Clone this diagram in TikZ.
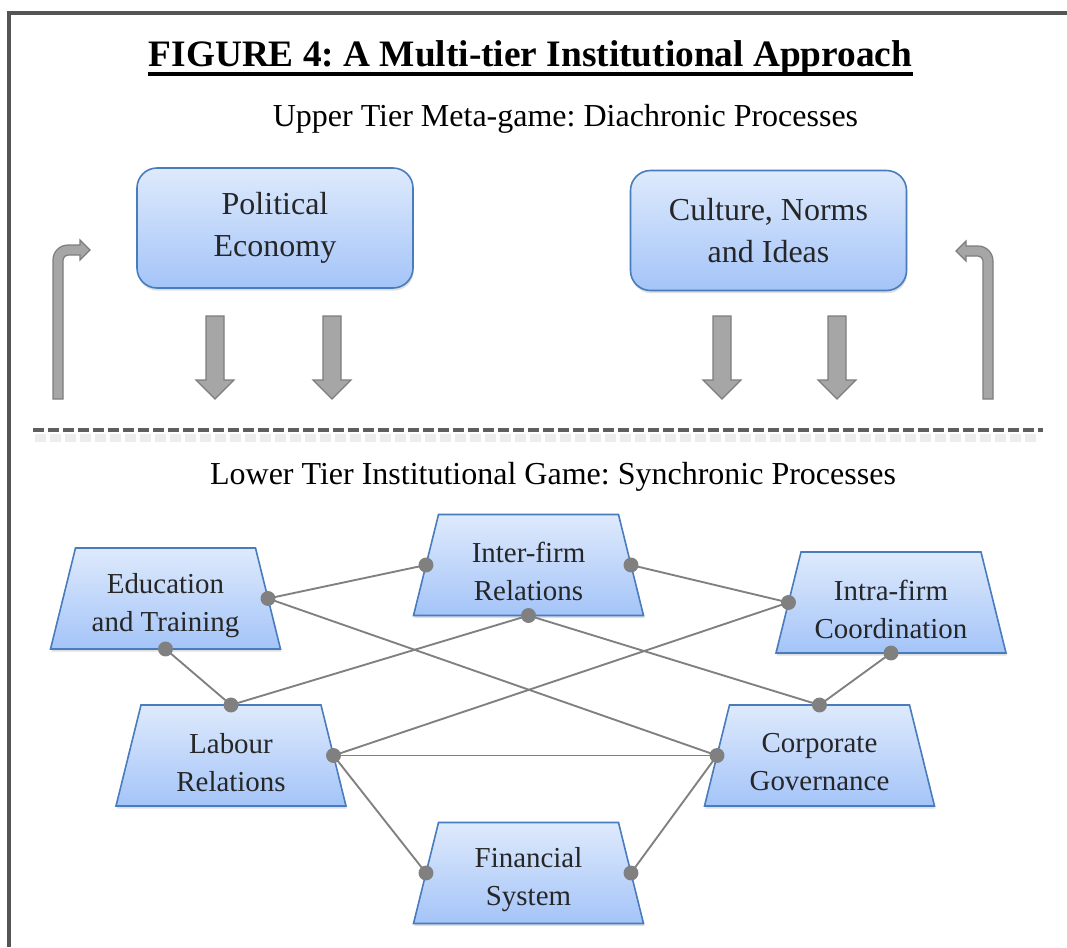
\documentclass[tikz,border=0pt]{standalone}
\usepackage{fontspec}
\setmainfont{Liberation Serif}
\usetikzlibrary{calc,shadows}
\frenchspacing
\definecolor{boxtop}{RGB}{222,234,252}
\definecolor{boxbot}{RGB}{164,196,248}
\definecolor{boxline}{RGB}{72,124,189}
\definecolor{arrfill}{RGB}{166,166,166}
\definecolor{arrline}{RGB}{125,125,125}
\definecolor{linkgray}{RGB}{128,128,128}
\definecolor{txt}{RGB}{38,38,38}
\definecolor{framegray}{RGB}{85,85,85}
\definecolor{dashgray}{RGB}{95,95,95}

\newcommand\trapz[4]{%
  \path[trapfill] (#2,#3) ++(-90,-50.5) -- ++(180,0) -- ++(25,101) -- ++(-230,0) -- cycle;
  \node[traptext] (#1) at (#2,#3) {#4};
  \coordinate (#1-l) at ($(#2,#3)+(-102.5,0)$);
  \coordinate (#1-r) at ($(#2,#3)+(102.5,0)$);
  \coordinate (#1-t) at ($(#2,#3)+(0,-50.5)$);
  \coordinate (#1-b) at ($(#2,#3)+(0,50.5)$);
}
\newcommand\downarr[1]{%
  \path[arrstyle] (#1-9,316) -- (#1+9,316) -- (#1+9,380) -- (#1+19,380) -- (#1,399)
    -- (#1-19,380) -- (#1-9,380) -- cycle;
}

\begin{document}
\begin{tikzpicture}[x=0.75pt,y=-0.75pt,
  upperbox/.style={rectangle, rounded corners=15pt, draw=boxline, line width=1.2pt,
    top color=boxtop, bottom color=boxbot, minimum width=207pt, minimum height=90pt,
    align=center, text=txt, font=\fontsize{24}{31.5}\selectfont,
    drop shadow={shadow xshift=0.6pt, shadow yshift=-2pt, opacity=0.25}},
  trapfill/.style={draw=boxline, line width=1.2pt, top color=boxtop, bottom color=boxbot,
    drop shadow={shadow xshift=0.6pt, shadow yshift=-2pt, opacity=0.25}},
  traptext/.style={inner sep=0pt, align=center, text=txt, yshift=-5pt,
    font=\fontsize{21.7}{28.5}\selectfont},
  arrstyle/.style={fill=arrfill, draw=arrline, line width=0.9pt, line join=miter},
  link/.style={draw=linkgray, line width=1.4pt},
  dotc/.style={fill=linkgray},
  heading/.style={inner sep=0pt, anchor=base, font=\fontsize{24}{29}\selectfont, text=black}
]
\useasboundingbox (0,0) rectangle (1067,947);
\fill[white] (0,0) rectangle (1067,947);

% frame (cropped)
\draw[framegray, line width=2.8pt] (9,947) -- (9,13) -- (1067,13);

% title
\node[inner sep=0pt, anchor=base, font=\fontsize{28}{34}\selectfont\bfseries] (title) at (530.5,66)
  {FIGURE 4: A Multi-tier Institutional Approach};
\draw[line width=3pt] ([yshift=-6pt]title.base west) -- ([yshift=-6pt]title.base east);

\node[heading] (upper) at (565.5,126) {Upper Tier Meta-game: Diachronic Processes};

% upper tier boxes
\node[upperbox] (pe) at (275,228) {Political\\Economy};
\node[upperbox] (cn) at (768.5,230.5) {Culture, Norms\\and Ideas};

% down arrows
\downarr{215}
\downarr{332}
\downarr{722}
\downarr{837}

% bent feedback arrows
\path[arrstyle] (53,399) -- (53,260) .. controls (53,251.7) and (59.7,245) .. (68,245)
  -- (80,245) -- (80,240) -- (90,250) -- (80,260) -- (80,255) -- (68,255)
  .. controls (65.2,255) and (63,257.2) .. (63,260) -- (63,399) -- cycle;
\path[arrstyle] (993,399) -- (993,261) .. controls (993,252.7) and (986.3,246) .. (978,246)
  -- (966,246) -- (966,241) -- (956,251) -- (966,261) -- (966,256) -- (978,256)
  .. controls (980.8,256) and (983,258.2) .. (983,261) -- (983,399) -- cycle;

% tier separator
\draw[gray!14, line width=6pt, dash pattern=on 8.25pt off 3pt] (35,438) -- (1040,438);
\draw[dashgray, line width=3pt, dash pattern=on 8.25pt off 3pt] (33,430) -- (1043,430);

\node[heading] (lower) at (553,484) {Lower Tier Institutional Game: Synchronic Processes};

% lower tier
\trapz{edu}{165.5}{598.5}{Education\\and Training}
\trapz{inter}{528.5}{565}{Inter-firm\\Relations}
\trapz{intra}{891}{602.5}{Intra-firm\\Coordination}
\trapz{lab}{231}{755.5}{Labour\\Relations}
\trapz{corp}{819.5}{755.5}{Corporate\\Governance}
\trapz{fin}{528.5}{873}{Financial\\System}

\draw[link] (edu-r) -- (inter-l);
\draw[link] (edu-r) -- (corp-l);
\draw[link] (edu-b) -- (lab-t);
\draw[link] (inter-r) -- (intra-l);
\draw[link] (inter-b) -- (lab-t);
\draw[link] (inter-b) -- (corp-t);
\draw[link] (intra-l) -- (lab-r);
\draw[link] (intra-b) -- (corp-t);
\draw[link] (lab-r) -- (corp-l);
\draw[link] (lab-r) -- (fin-l);
\draw[link] (corp-l) -- (fin-r);

\foreach \p in {edu-r,edu-b,inter-l,inter-r,inter-b,intra-l,intra-b,lab-t,lab-r,corp-t,corp-l,fin-l,fin-r}
  \fill[dotc] (\p) circle (5.6pt);
\end{tikzpicture}
\end{document}
